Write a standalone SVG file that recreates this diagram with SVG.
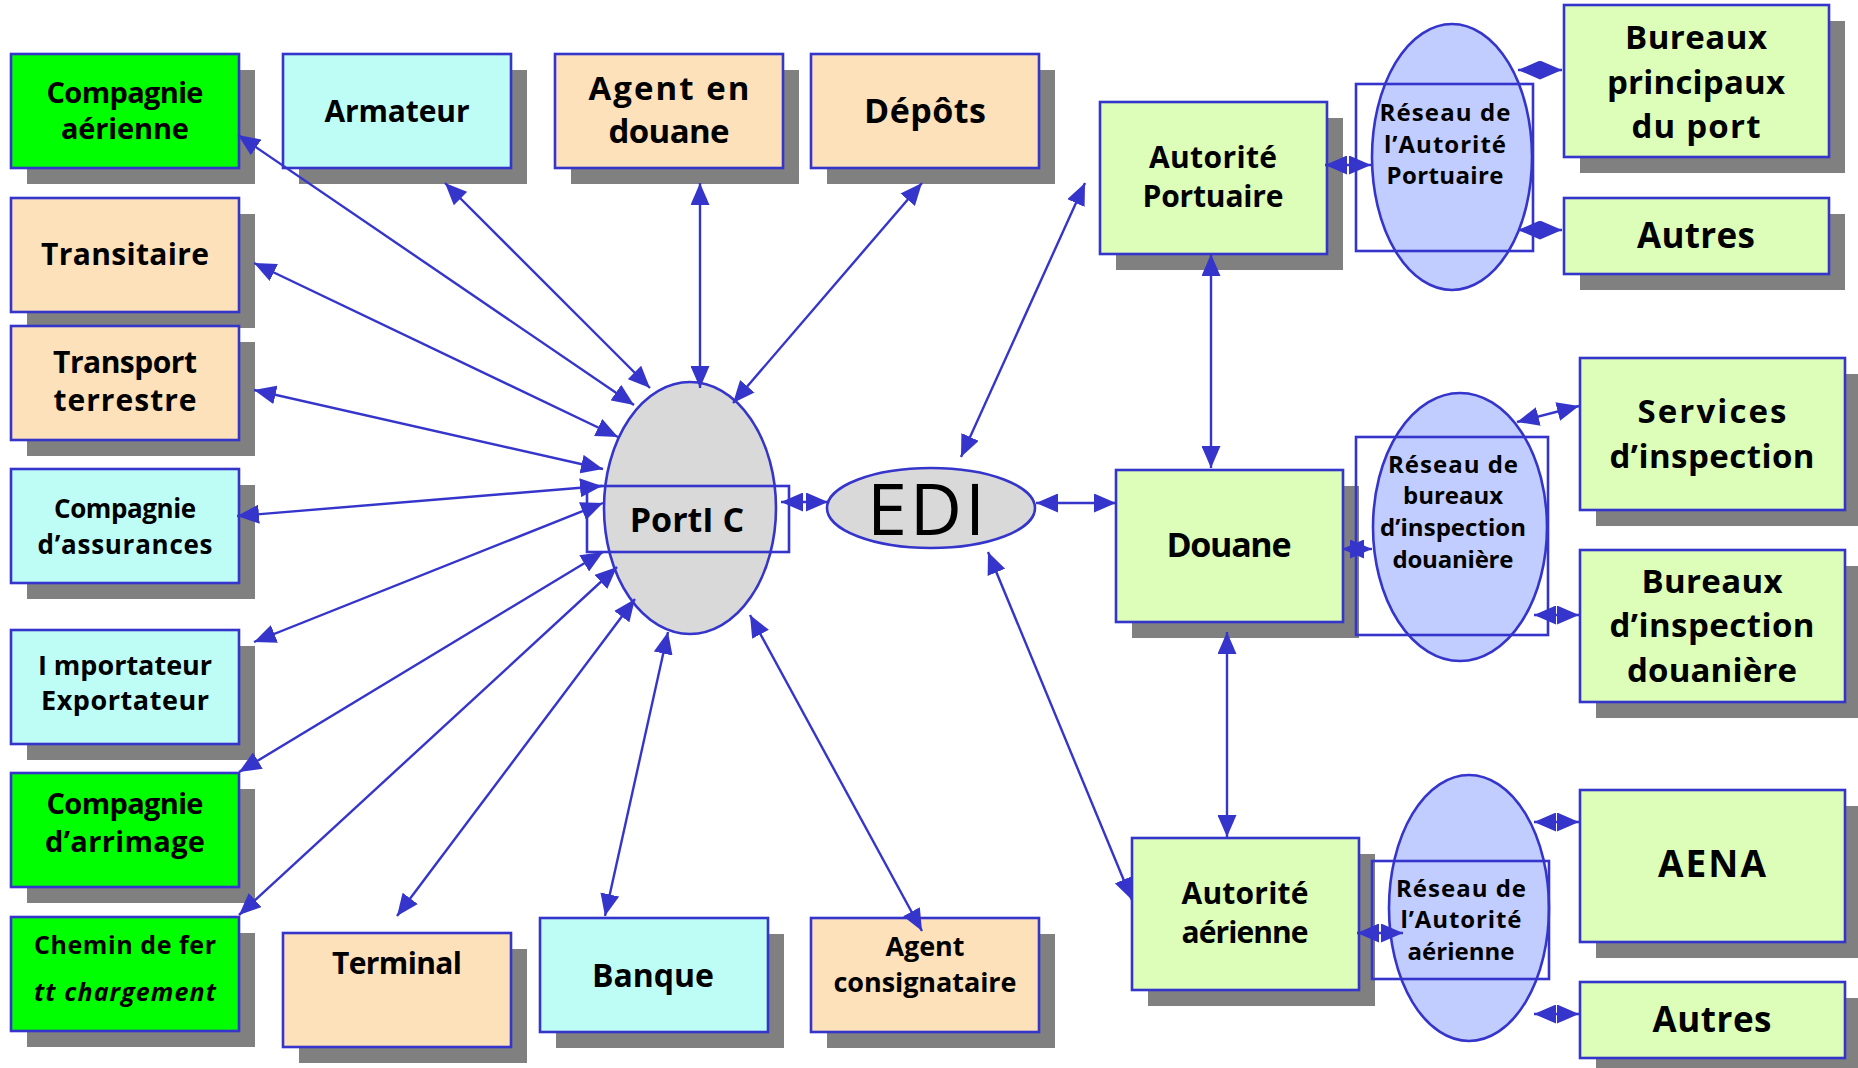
<svg xmlns="http://www.w3.org/2000/svg" width="1858" height="1068" viewBox="0 0 1858 1068">
<defs>
<style>
.sh{fill:#808080}
.bx{stroke:#3535CC;stroke-width:2.6}
.g{fill:#00FF00}
.c{fill:#BEFDF6}
.p{fill:#FCE1BA}
.l{fill:#DCFEB8}
.net{fill:#C1CDFE;stroke:#3535CC;stroke-width:2.6}
.hub{fill:#D9D9D9;stroke:#3535CC;stroke-width:2.6}
.fr{fill:none;stroke:#3535CC;stroke-width:2.6}
.t{font-family:"Open Sans","DejaVu Sans",sans-serif;font-weight:bold;fill:#000;text-anchor:middle}
.cn line{stroke:#3535CC;stroke-width:2.4;marker-start:url(#ah);marker-end:url(#ah)}
</style>
<marker id="ah" viewBox="0 0 22 19" refX="22" refY="9.5" markerWidth="22" markerHeight="19" markerUnits="userSpaceOnUse" orient="auto-start-reverse">
<path d="M0,0 L22,9.5 L0,19 z" fill="#3535CC"/>
</marker>
</defs>
<rect width="1858" height="1068" fill="#FFFFFF"/>

<!-- left column -->
<g id="compagnie-aerienne">
<rect class="sh" x="27" y="70" width="228" height="114"/>
<rect class="bx g" x="11" y="54" width="228" height="114"/>
<text class="t" font-size="29"><tspan x="125" y="103" textLength="157">Compagnie</tspan><tspan x="125" y="139" textLength="128">aérienne</tspan></text>
</g>
<g id="transitaire">
<rect class="sh" x="27" y="214" width="228" height="114"/>
<rect class="bx p" x="11" y="198" width="228" height="114"/>
<text class="t" font-size="30" x="125" y="265" textLength="168">Transitaire</text>
</g>
<g id="transport-terrestre">
<rect class="sh" x="27" y="342" width="228" height="114"/>
<rect class="bx p" x="11" y="326" width="228" height="114"/>
<text class="t" font-size="30"><tspan x="125" y="373" textLength="144">Transport</tspan><tspan x="125" y="411" textLength="143">terrestre</tspan></text>
</g>
<g id="compagnie-assurances">
<rect class="sh" x="27" y="485" width="228" height="114"/>
<rect class="bx c" x="11" y="469" width="228" height="114"/>
<text class="t" font-size="26"><tspan x="125" y="518" textLength="142">Compagnie</tspan><tspan x="125" y="554" textLength="175">d’assurances</tspan></text>
</g>
<g id="importateur-exportateur">
<rect class="sh" x="27" y="646" width="228" height="114"/>
<rect class="bx c" x="11" y="630" width="228" height="114"/>
<text class="t" font-size="27"><tspan x="125" y="675">I</tspan><tspan dx="7">mportateur</tspan><tspan x="125" y="710" textLength="168">Exportateur</tspan></text>
</g>
<g id="compagnie-arrimage">
<rect class="sh" x="27" y="789" width="228" height="114"/>
<rect class="bx g" x="11" y="773" width="228" height="114"/>
<text class="t" font-size="29"><tspan x="125" y="814" textLength="157">Compagnie</tspan><tspan x="125" y="852" textLength="160">d’arrimage</tspan></text>
</g>
<g id="chemin-de-fer">
<rect class="sh" x="27" y="933" width="228" height="114"/>
<rect class="bx g" x="11" y="917" width="228" height="114"/>
<text class="t" font-size="25"><tspan x="125" y="954" textLength="182">Chemin de fer</tspan><tspan x="125" y="1001" textLength="182" font-style="italic">tt chargement</tspan></text>
</g>

<!-- top row -->
<g id="armateur">
<rect class="sh" x="299" y="70" width="228" height="114"/>
<rect class="bx c" x="283" y="54" width="228" height="114"/>
<text class="t" font-size="30" x="397" y="122" textLength="145">Armateur</text>
</g>
<g id="agent-en-douane">
<rect class="sh" x="571" y="70" width="228" height="114"/>
<rect class="bx p" x="555" y="54" width="228" height="114"/>
<text class="t" font-size="33"><tspan x="669" y="100" textLength="161">Agent en</tspan><tspan x="669" y="143" textLength="121">douane</tspan></text>
</g>
<g id="depots">
<rect class="sh" x="827" y="70" width="228" height="114"/>
<rect class="bx p" x="811" y="54" width="228" height="114"/>
<text class="t" font-size="34" x="925" y="123" textLength="122">Dépôts</text>
</g>

<!-- bottom row -->
<g id="terminal">
<rect class="sh" x="299" y="949" width="228" height="114"/>
<rect class="bx p" x="283" y="933" width="228" height="114"/>
<text class="t" font-size="30" x="397" y="974" textLength="130">Terminal</text>
</g>
<g id="banque">
<rect class="sh" x="556" y="934" width="228" height="114"/>
<rect class="bx c" x="540" y="918" width="228" height="114"/>
<text class="t" font-size="32" x="653" y="987" textLength="122">Banque</text>
</g>
<g id="agent-consignataire">
<rect class="sh" x="827" y="934" width="228" height="114"/>
<rect class="bx p" x="811" y="918" width="228" height="114"/>
<text class="t" font-size="27"><tspan x="925" y="956" textLength="79">Agent</tspan><tspan x="925" y="992" textLength="183">consignataire</tspan></text>
</g>

<!-- right side boxes -->
<g id="autorite-portuaire">
<rect class="sh" x="1116" y="118" width="227" height="152"/>
<rect class="bx l" x="1100" y="102" width="227" height="152"/>
<text class="t" font-size="30"><tspan x="1213" y="168" textLength="128">Autorité</tspan><tspan x="1213" y="207" textLength="141">Portuaire</tspan></text>
</g>
<g id="bureaux-principaux">
<rect class="sh" x="1580" y="21" width="265" height="152"/>
<rect class="bx l" x="1564" y="5" width="265" height="152"/>
<text class="t" font-size="33"><tspan x="1696" y="49" textLength="142">Bureaux</tspan><tspan x="1696" y="94" textLength="178">principaux</tspan><tspan x="1696" y="138" textLength="129">du port</tspan></text>
</g>
<g id="autres-port">
<rect class="sh" x="1580" y="214" width="265" height="76"/>
<rect class="bx l" x="1564" y="198" width="265" height="76"/>
<text class="t" font-size="35" x="1696" y="248" textLength="118">Autres</text>
</g>
<g id="douane">
<rect class="sh" x="1132" y="486" width="227" height="152"/>
<rect class="bx l" x="1116" y="470" width="227" height="152"/>
<text class="t" font-size="34" x="1229" y="557" textLength="125">Douane</text>
</g>
<g id="services-inspection">
<rect class="sh" x="1596" y="374" width="265" height="152"/>
<rect class="bx l" x="1580" y="358" width="265" height="152"/>
<text class="t" font-size="33"><tspan x="1712" y="423" textLength="149">Services</tspan><tspan x="1712" y="468" textLength="205">d’inspection</tspan></text>
</g>
<g id="bureaux-inspection">
<rect class="sh" x="1596" y="566" width="265" height="152"/>
<rect class="bx l" x="1580" y="550" width="265" height="152"/>
<text class="t" font-size="33"><tspan x="1712" y="593" textLength="141">Bureaux</tspan><tspan x="1712" y="637" textLength="205">d’inspection</tspan><tspan x="1712" y="682" textLength="170">douanière</tspan></text>
</g>
<g id="autorite-aerienne">
<rect class="sh" x="1148" y="854" width="227" height="152"/>
<rect class="bx l" x="1132" y="838" width="227" height="152"/>
<text class="t" font-size="30"><tspan x="1245" y="904" textLength="127">Autorité</tspan><tspan x="1245" y="943" textLength="127">aérienne</tspan></text>
</g>
<g id="aena">
<rect class="sh" x="1596" y="806" width="265" height="152"/>
<rect class="bx l" x="1580" y="790" width="265" height="152"/>
<text class="t" font-size="37" x="1712" y="877" textLength="108">AENA</text>
</g>
<g id="autres-aerien">
<rect class="sh" x="1596" y="998" width="265" height="76"/>
<rect class="bx l" x="1580" y="982" width="265" height="76"/>
<text class="t" font-size="35" x="1712" y="1032" textLength="119">Autres</text>
</g>

<!-- networks -->
<g id="reseau-portuaire">
<ellipse class="net" cx="1452" cy="157" rx="80" ry="133"/>
<rect class="fr" x="1356" y="84" width="177" height="167"/>
<text class="t" font-size="24"><tspan x="1445" y="121" textLength="131">Réseau de</tspan><tspan x="1445" y="153" textLength="122">l’Autorité</tspan><tspan x="1445" y="184" textLength="117">Portuaire</tspan></text>
</g>
<g id="reseau-douane">
<ellipse class="net" cx="1460" cy="527" rx="87" ry="134"/>
<rect class="fr" x="1356" y="437" width="192" height="198"/>
<text class="t" font-size="24"><tspan x="1453" y="473" textLength="130">Réseau de</tspan><tspan x="1453" y="504" textLength="100">bureaux</tspan><tspan x="1453" y="536" textLength="146">d’inspection</tspan><tspan x="1453" y="568" textLength="121">douanière</tspan></text>
</g>
<g id="reseau-aerien">
<ellipse class="net" cx="1469" cy="908" rx="80" ry="133"/>
<rect class="fr" x="1372" y="861" width="177" height="118"/>
<text class="t" font-size="24"><tspan x="1461" y="897" textLength="130">Réseau de</tspan><tspan x="1461" y="928" textLength="121">l’Autorité</tspan><tspan x="1461" y="960" textLength="107">aérienne</tspan></text>
</g>

<!-- hubs -->
<g id="portic">
<ellipse class="hub" cx="690" cy="508" rx="86" ry="126"/>
<rect class="fr" x="587" y="486" width="202" height="66"/>
<text class="t" font-size="34"><tspan x="687" y="532">PortI</tspan><tspan dx="9">C</tspan></text>
</g>
<g id="edi">
<ellipse class="hub" cx="931" cy="508" rx="104" ry="40"/>
<text font-family="'Open Sans','DejaVu Sans',sans-serif" font-size="72" text-anchor="middle" x="926" y="535" textLength="118">EDI</text>
</g>

<!-- connectors -->
<g id="connectors" class="cn">
<line x1="238" y1="135" x2="634" y2="405"/>
<line x1="445" y1="183" x2="650" y2="388"/>
<line x1="700" y1="183" x2="700" y2="388"/>
<line x1="922" y1="183" x2="733" y2="403"/>
<line x1="254" y1="263" x2="618" y2="437"/>
<line x1="254" y1="390" x2="603" y2="469"/>
<line x1="237" y1="516" x2="602" y2="486"/>
<line x1="254" y1="642" x2="603" y2="503"/>
<line x1="239" y1="772" x2="603" y2="552"/>
<line x1="239" y1="915" x2="617" y2="567"/>
<line x1="397" y1="916" x2="635" y2="599"/>
<line x1="605" y1="916" x2="668" y2="632"/>
<line x1="922" y1="931" x2="750" y2="615"/>
<line x1="781" y1="502" x2="828" y2="502"/>
<line x1="961" y1="457" x2="1085" y2="183"/>
<line x1="1036" y1="503" x2="1116" y2="503"/>
<line x1="988" y1="552" x2="1132" y2="900"/>
<line x1="1211" y1="254" x2="1211" y2="468"/>
<line x1="1227" y1="632" x2="1227" y2="837"/>
<line x1="1325" y1="165" x2="1371" y2="165"/>
<line x1="1518" y1="70" x2="1562" y2="70"/>
<line x1="1518" y1="230" x2="1562" y2="230"/>
<line x1="1342" y1="549" x2="1372" y2="549"/>
<line x1="1517" y1="422" x2="1579" y2="406"/>
<line x1="1534" y1="615" x2="1579" y2="615"/>
<line x1="1357" y1="933" x2="1403" y2="933"/>
<line x1="1534" y1="822" x2="1579" y2="822"/>
<line x1="1534" y1="1014" x2="1579" y2="1014"/>
</g>
</svg>
